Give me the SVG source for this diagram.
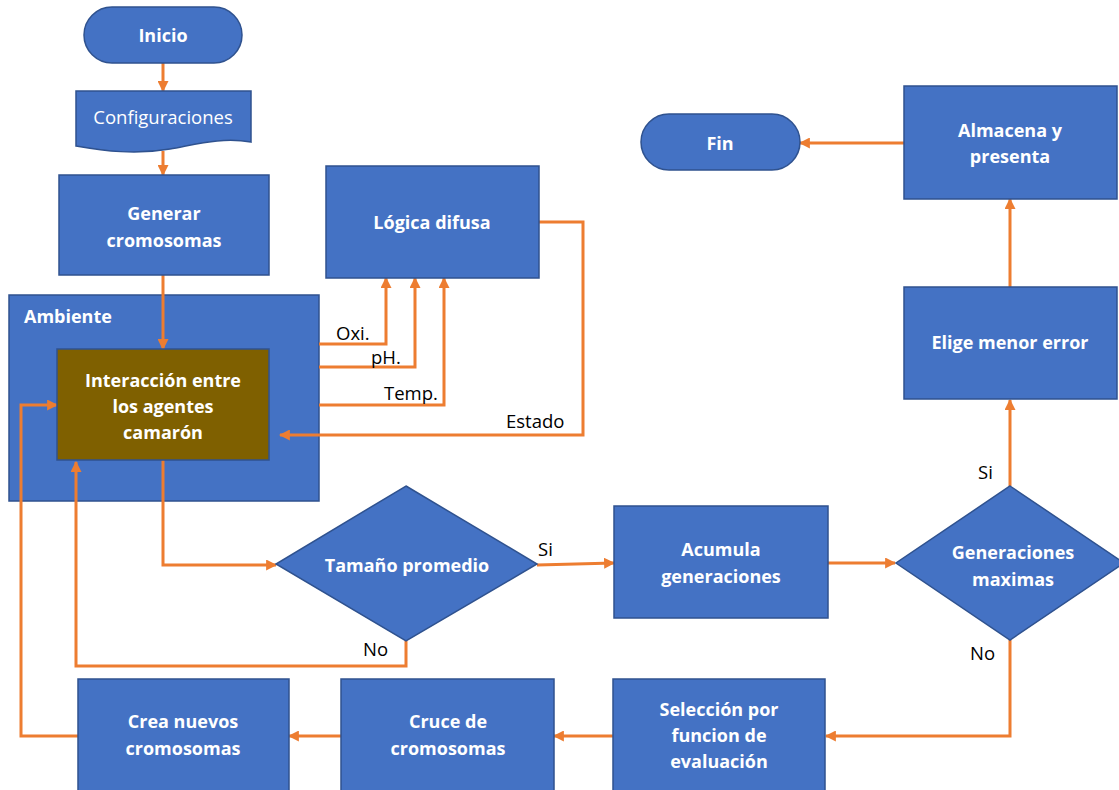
<svg xmlns="http://www.w3.org/2000/svg" width="1119" height="790" viewBox="0 0 1119 790">
  <defs>
    <style>
      .node { fill: #4472C4; stroke: #2F528F; stroke-width: 1.5; }
      .agent { fill: #7F6000; stroke: #2F528F; stroke-width: 1.5; }
      .t { font-family: "Open Sans", "Liberation Sans", sans-serif; font-weight: bold; font-size: 18px; fill: #ffffff; text-anchor: middle; dominant-baseline: central; }
      .tr { font-family: "Open Sans", "Liberation Sans", sans-serif; font-size: 18.5px; fill: #ffffff; text-anchor: middle; dominant-baseline: central; }
      .lbl { font-family: "Open Sans", "Liberation Sans", sans-serif; font-size: 18.5px; fill: #000000; dominant-baseline: central; }
      .edge { fill: none; stroke: #ED7D31; stroke-width: 3; stroke-linejoin: miter; marker-end: url(#ah); }
    </style>
    <marker id="ah" viewBox="0 0 10 10" refX="9" refY="5" markerWidth="11" markerHeight="11" markerUnits="userSpaceOnUse" orient="auto">
      <path d="M0,0 L10,5 L0,10 z" fill="#ED7D31"/>
    </marker>
  </defs>

  <rect width="1119" height="790" fill="#ffffff"/>

  <!-- container: Ambiente -->
  <g id="ambiente">
    <rect class="node" x="9" y="295" width="310" height="206"/>
    <text class="t" x="24" y="316" style="text-anchor:start">Ambiente</text>
  </g>

  <!-- connectors -->
  <g id="connectors">
    <path class="edge" d="M163,63 V91"/>
    <path class="edge" d="M163,151 V175"/>
    <path class="edge" d="M163,275 V349"/>
    <!-- sensors to fuzzy logic -->
    <path class="edge" d="M319,344 H386 V278"/>
    <path class="edge" d="M319,367 H415 V278"/>
    <path class="edge" d="M319,405 H444 V278"/>
    <!-- state feedback -->
    <path class="edge" d="M539,222 H583 V435 H280"/>
    <!-- to decision -->
    <path class="edge" d="M163,460 V565 H276"/>
    <path class="edge" d="M537,565 L614,563"/>
    <path class="edge" d="M406,641 V666 H76 V462"/>
    <path class="edge" d="M828,563 H895"/>
    <path class="edge" d="M1010,486 V400"/>
    <path class="edge" d="M1010,640 V736 H826"/>
    <path class="edge" d="M1010,287 V199"/>
    <path class="edge" d="M904,143 H800"/>
    <path class="edge" d="M613,736 H554"/>
    <path class="edge" d="M341,736 H289"/>
    <path class="edge" d="M78,736 H21 V405 H57"/>
    <!-- connector labels -->
    <text class="lbl" x="336" y="332">Oxi.</text>
    <text class="lbl" x="371" y="356">pH.</text>
    <text class="lbl" x="384" y="392">Temp.</text>
    <text class="lbl" x="506" y="420">Estado</text>
    <text class="lbl" x="538" y="548">Si</text>
    <text class="lbl" x="363" y="648">No</text>
    <text class="lbl" x="978" y="471">Si</text>
    <text class="lbl" x="970" y="652">No</text>
  </g>

  <g id="inicio">
    <rect class="node" x="84" y="7" width="158" height="56" rx="28" ry="28"/>
    <text class="t" x="163" y="35">Inicio</text>
  </g>

  <g id="configuraciones">
    <path class="node" d="M76,91 H251 V142 C222,137 198,144 170,149 C135,155 105,151 76,146 Z"/>
    <text class="tr" x="163" y="116">Configuraciones</text>
  </g>

  <g id="generar">
    <rect class="node" x="59" y="175" width="210" height="100"/>
    <text class="t" x="164" y="213">Generar</text>
    <text class="t" x="164" y="240">cromosomas</text>
  </g>

  <g id="interaccion">
    <rect class="agent" x="57" y="349" width="212" height="111"/>
    <text class="t" x="163" y="380">Interacción entre</text>
    <text class="t" x="163" y="406">los agentes</text>
    <text class="t" x="163" y="432">camarón</text>
  </g>

  <g id="logica">
    <rect class="node" x="326" y="166" width="213" height="112"/>
    <text class="t" x="432" y="222">Lógica difusa</text>
  </g>

  <g id="tamano">
    <polygon class="node" points="406,486 537,564 406,641 276,564"/>
    <text class="t" x="407" y="565">Tamaño promedio</text>
  </g>

  <g id="acumula">
    <rect class="node" x="614" y="506" width="214" height="112"/>
    <text class="t" x="721" y="549">Acumula</text>
    <text class="t" x="721" y="576">generaciones</text>
  </g>

  <g id="generaciones">
    <polygon class="node" points="1010,486 1124,563 1010,640 896,563"/>
    <text class="t" x="1013" y="552">Generaciones</text>
    <text class="t" x="1013" y="579">maximas</text>
  </g>

  <g id="elige">
    <rect class="node" x="904" y="287" width="213" height="112"/>
    <text class="t" x="1010" y="342">Elige menor error</text>
  </g>

  <g id="almacena">
    <rect class="node" x="904" y="86" width="213" height="113"/>
    <text class="t" x="1010" y="130">Almacena y</text>
    <text class="t" x="1010" y="156">presenta</text>
  </g>

  <g id="fin">
    <rect class="node" x="641" y="114" width="159" height="56" rx="28" ry="28"/>
    <text class="t" x="720" y="143">Fin</text>
  </g>

  <g id="seleccion">
    <rect class="node" x="613" y="679" width="212" height="120"/>
    <text class="t" x="719" y="709">Selección por</text>
    <text class="t" x="719" y="735">funcion de</text>
    <text class="t" x="719" y="761">evaluación</text>
  </g>

  <g id="cruce">
    <rect class="node" x="341" y="679" width="213" height="120"/>
    <text class="t" x="448" y="721">Cruce de</text>
    <text class="t" x="448" y="748">cromosomas</text>
  </g>

  <g id="crea">
    <rect class="node" x="78" y="679" width="211" height="120"/>
    <text class="t" x="183" y="721">Crea nuevos</text>
    <text class="t" x="183" y="748">cromosomas</text>
  </g>
</svg>
